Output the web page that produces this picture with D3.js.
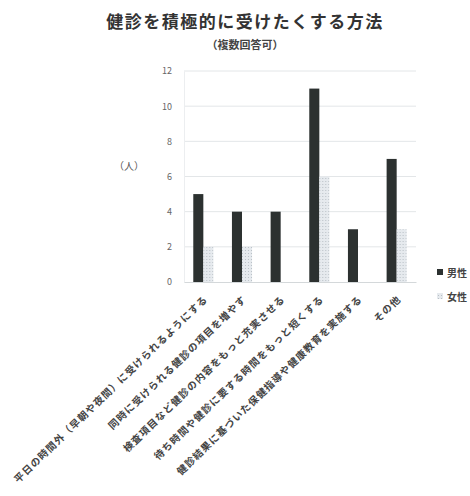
<!DOCTYPE html>
<html>
<head>
<meta charset="utf-8">
<script src="https://cdn.jsdelivr.net/npm/d3@7"></script>
<style>
  body { margin: 0; background: #fff; }
  text { font-family: "Noto Sans CJK JP", "Noto Sans", sans-serif; }
</style>
</head>
<body>
<div id="chart"></div>
<script>
const categories = [
  '平日の時間外（早朝や夜間）に受けられるようにする',
  '同時に受けられる健診の項目を増やす',
  '検査項目など健診の内容をもっと充実させる',
  '待ち時間や健診に要する時間をもっと短くする',
  '健診結果に基づいた保健指導や健康教育を実施する',
  'その他',
];
const seriesNames = ['男性', '女性'];
const male = [5, 4, 4, 11, 3, 7];
const female = [2, 2, 0, 6, 0, 3];
const yTicks = [0, 2, 4, 6, 8, 10, 12];

const W = 470, H = 496;
const plot = { left: 184, right: 416, top: 71, bottom: 282 };

const svg = d3.select('#chart').append('svg')
  .attr('width', W).attr('height', H);

const defs = svg.append('defs');
const pat = defs.append('pattern')
  .attr('id', 'dots').attr('width', 3).attr('height', 3)
  .attr('patternUnits', 'userSpaceOnUse');
pat.append('rect').attr('width', 3).attr('height', 3).attr('fill', '#e6eaee');
pat.append('rect').attr('x', 1).attr('y', 1).attr('width', 1).attr('height', 1).attr('fill', '#b9c0c6');

const x = d3.scaleBand().domain(categories).range([plot.left, plot.right]).paddingInner(0.48).paddingOuter(0.24);
const xs = d3.scaleBand().domain(seriesNames).range([0, x.bandwidth()]);
const y = d3.scaleLinear().domain([0, 12]).range([plot.bottom, plot.top]);

// gridlines
svg.append('g')
  .selectAll('line').data(yTicks.filter((d) => d > 0)).enter()
  .append('line')
  .attr('x1', plot.left).attr('x2', plot.right)
  .attr('y1', (d) => y(d)).attr('y2', (d) => y(d))
  .attr('stroke', '#e3e6e8').attr('stroke-width', 1);

// y axis
const yAxis = svg.append('g')
  .attr('transform', `translate(${plot.left},0)`)
  .call(d3.axisLeft(y).tickValues(yTicks).tickSize(0).tickPadding(12));
yAxis.select('.domain').attr('stroke', '#eceef0');
yAxis.selectAll('text').attr('font-size', 9).attr('fill', '#666');

// bars
const groups = svg.append('g').selectAll('g').data(categories).enter()
  .append('g').attr('transform', (d) => `translate(${x(d)},0)`);
groups.append('rect')
  .attr('x', xs('男性')).attr('width', xs.bandwidth())
  .attr('y', (d, i) => y(male[i]))
  .attr('height', (d, i) => y(0) - y(male[i]))
  .attr('fill', '#2c3130');
groups.append('rect')
  .attr('x', xs('女性')).attr('width', xs.bandwidth())
  .attr('y', (d, i) => y(female[i]))
  .attr('height', (d, i) => y(0) - y(female[i]))
  .attr('fill', 'url(#dots)');

// x axis
const xAxis = svg.append('g')
  .attr('transform', `translate(0,${plot.bottom})`)
  .call(d3.axisBottom(x).tickSize(0).tickSizeOuter(0));
xAxis.select('.domain').attr('stroke', '#d4d8da');
xAxis.selectAll('.tick text')
  .attr('text-anchor', 'end')
  .attr('font-size', 10)
  .attr('font-weight', 'bold')
  .attr('letter-spacing', '1px')
  .attr('fill', '#444')
  .attr('transform', 'translate(5,18) rotate(-44)')
  .attr('dy', 0).attr('y', 0);

// axis unit
svg.append('text').attr('x', 129).attr('y', 170)
  .attr('text-anchor', 'middle').attr('font-size', 10).attr('fill', '#555')
  .text('（人）');

// title
svg.append('text').attr('x', 245).attr('y', 28)
  .attr('text-anchor', 'middle').attr('font-size', 17).attr('font-weight', 'bold')
  .attr('letter-spacing', '1.5px').attr('fill', '#333')
  .text('健診を積極的に受けたくする方法');
svg.append('text').attr('x', 245).attr('y', 49)
  .attr('text-anchor', 'middle').attr('font-size', 11).attr('font-weight', 'bold')
  .attr('fill', '#444')
  .text('（複数回答可）');

// legend
const legend = svg.append('g').selectAll('g').data(seriesNames).enter()
  .append('g').attr('transform', (d, i) => `translate(437,${273 + i * 24})`);
legend.append('rect').attr('x', 0).attr('y', -4).attr('width', 6).attr('height', 6)
  .attr('fill', (d) => (d === '男性' ? '#2c3130' : 'url(#dots)'));
legend.append('text').attr('x', 10).attr('y', 3.5)
  .attr('font-size', 10).attr('font-weight', 'bold').attr('fill', '#444')
  .text((d) => d);
</script>
</body>
</html>
